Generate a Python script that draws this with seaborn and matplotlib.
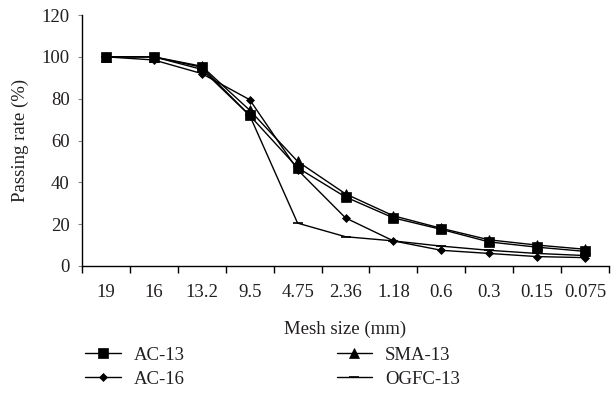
import pandas as pd
import seaborn as sns
import matplotlib.pyplot as plt
from matplotlib.ticker import FixedLocator

# sieve sizes (mm) and passing rates (%)
MESH = ['19', '16', '13.2', '9.5', '4.75', '2.36', '1.18', '0.6', '0.3', '0.15', '0.075']
AC13 = [100, 100, 95, 72, 47, 33, 23, 17.5, 11.5, 9, 7]
SMA13 = [100, 100, 95.5, 74.5, 50, 34.5, 24, 18, 12.5, 10, 8]
AC16 = [100, 98.5, 92, 79.5, 46, 23, 12, 7.5, 6, 4.5, 4]
OGFC13 = [100, 100, 94, 72, 20.5, 14, 12, 9.5, 7.5, 6, 5]

SERIES = {'AC-13': AC13, 'AC-16': AC16, 'SMA-13': SMA13, 'OGFC-13': OGFC13}
MARKERS = {'AC-13': 's', 'AC-16': 'D', 'SMA-13': '^', 'OGFC-13': '_'}
SIZES = {'AC-13': 6.5, 'AC-16': 4.5, 'SMA-13': 7, 'OGFC-13': 7}


def build_df():
    rows = []
    for name, vals in SERIES.items():
        for i, v in enumerate(vals):
            rows.append({'pos': i, 'rate': v, 'mix': name})
    return pd.DataFrame(rows)


def main():
    sns.set_theme(style='white')
    plt.rcParams['font.family'] = ['Liberation Serif', 'DejaVu Serif']
    plt.rcParams['font.size'] = 12.5

    df = build_df()
    fig, ax = plt.subplots(figsize=(6.12, 4.04), dpi=100)
    fig.subplots_adjust(left=82 / 612, right=609 / 612, top=1 - 15 / 404, bottom=1 - 266 / 404)

    for name in SERIES:
        sub = df[df['mix'] == name]
        mew = 1.2 if name == 'OGFC-13' else 0.5
        sns.lineplot(data=sub, x='pos', y='rate', marker=MARKERS[name], markersize=SIZES[name],
                     markerfacecolor='black', markeredgecolor='black', markeredgewidth=mew,
                     color='black', linewidth=1.0, ax=ax, sort=False)

    ax.set_xlim(-0.5, len(MESH) - 0.5)
    ax.set_ylim(0, 120)
    ax.set_yticks(range(0, 121, 20))
    ax.set_xticks(range(len(MESH)))
    ax.set_xticklabels(MESH)
    ax.xaxis.set_minor_locator(FixedLocator([i + 0.5 for i in range(-1, len(MESH))]))
    ax.tick_params(axis='x', which='major', length=0, pad=13, labelsize=13.5, colors='#231f20')
    ax.tick_params(axis='x', which='minor', length=5, width=1, color='black', bottom=True)
    ax.tick_params(axis='y', length=3, width=0.8, color='#888888', left=True, pad=6,
                   labelsize=13.5, labelcolor='#231f20')
    sns.despine(ax=ax)
    for s in ('left', 'bottom'):
        ax.spines[s].set_color('black')
        ax.spines[s].set_linewidth(1.0)

    ax.set_xlabel('Mesh size (mm)', fontsize=13.5, color='#231f20', labelpad=14)
    ax.set_ylabel('Passing rate (%)', fontsize=13.5, color='#231f20', labelpad=9)

    handles = [plt.Line2D([], [], color='black', lw=1.0, marker=MARKERS[n],
                          markersize=SIZES[n], markerfacecolor='black', markeredgecolor='black',
                          markeredgewidth=1.2 if n == 'OGFC-13' else 0.5) for n in SERIES]
    fig.legend(handles, list(SERIES), ncol=2, loc='upper left', bbox_to_anchor=(68 / 612, 1 - 330 / 404),
               frameon=False, fontsize=13.5, handlelength=1.9, handletextpad=0.7,
               columnspacing=8.1, labelspacing=0.35, labelcolor='#231f20')

    fig.savefig('out.png', dpi=100)


if __name__ == '__main__':
    main()
